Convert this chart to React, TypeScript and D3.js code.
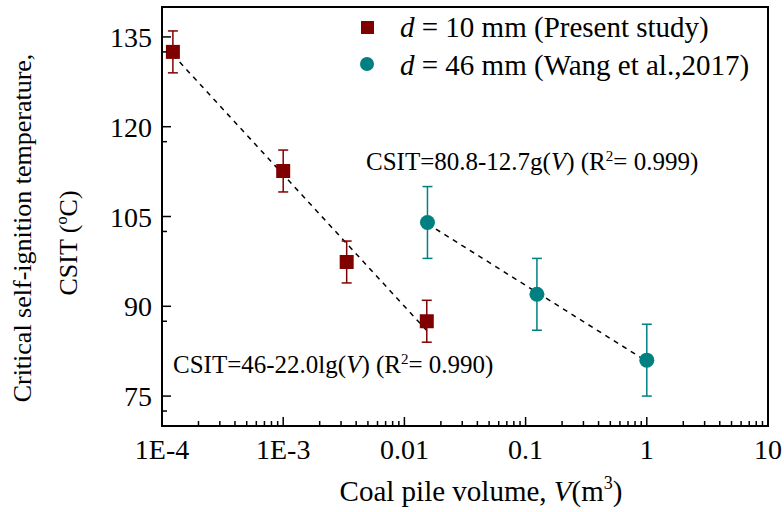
import React from 'react';
import * as d3 from 'd3';

// present study, d = 10 mm
const redVolume = [1.23e-4, 1.0e-3, 3.34e-3, 0.0153];
const redCsit = [132.5, 112.6, 97.4, 87.5];
const redErr = [3.5, 3.5, 3.5, 3.5];

// Wang et al., 2017, d = 46 mm
const tealVolume = [0.0155, 0.124, 1.0];
const tealCsit = [104, 92, 81];
const tealErr = [6, 6, 6];

// fit lines: CSIT = a + b * lg(V)
const redFit = { a: 46, b: -22.0, from: 1.23e-4, to: 0.0153 };
const tealFit = { a: 80.8, b: -12.7, from: 0.0155, to: 1.0 };

const xTicks = [1e-4, 1e-3, 0.01, 0.1, 1, 10];
const xTickLabels = ['1E-4', '1E-3', '0.01', '0.1', '1', '10'];
const yTicks = [75, 90, 105, 120, 135];

const W = 784;
const H = 512;
const left = 162, right = 768, top = 7, bottom = 426;
const RED = '#800000';
const TEAL = '#008080';
const FONT = '"Liberation Serif", "Times New Roman", serif';

export default function App() {
  const x = d3.scaleLog().domain([1e-4, 10]).range([left, right]);
  const y = d3.scaleLinear().domain([70, 140]).range([bottom, top]);

  const minorX: number[] = [];
  for (let e = -4; e < 1; e++) {
    for (let m = 2; m <= 9; m++) minorX.push(m * Math.pow(10, e));
  }
  const minorY = d3.range(72.5, 140, 15);

  const fitLine = (f: { a: number; b: number; from: number; to: number }) => {
    const line = d3.line<number>().x(v => x(v)).y(v => y(f.a + f.b * Math.log10(v)));
    return line([f.from, f.to]) || '';
  };

  const errBar = (vx: number, vy: number, e: number, c: string, k: number) => (
    <g key={k} stroke={c} strokeWidth={1.5}>
      <line x1={x(vx)} x2={x(vx)} y1={y(vy - e)} y2={y(vy + e)} />
      <line x1={x(vx) - 5} x2={x(vx) + 5} y1={y(vy + e)} y2={y(vy + e)} />
      <line x1={x(vx) - 5} x2={x(vx) + 5} y1={y(vy - e)} y2={y(vy - e)} />
    </g>
  );

  return (
    <svg width={W} height={H} style={{ position: 'absolute', left: 0, top: 0, background: '#fff' }} fontFamily={FONT}>
      {/* fit lines */}
      <path d={fitLine(redFit)} stroke="#000" strokeWidth={1.5} strokeDasharray="5,5" fill="none" />
      <path d={fitLine(tealFit)} stroke="#000" strokeWidth={1.5} strokeDasharray="5,5" fill="none" />

      {/* error bars */}
      {redVolume.map((v, i) => errBar(v, redCsit[i], redErr[i], RED, i))}
      {tealVolume.map((v, i) => errBar(v, tealCsit[i], tealErr[i], TEAL, 10 + i))}

      {/* markers */}
      {redVolume.map((v, i) => (
        <rect key={'r' + i} x={x(v) - 7} y={y(redCsit[i]) - 7} width={14} height={14} fill={RED} />
      ))}
      {tealVolume.map((v, i) => (
        <circle key={'c' + i} cx={x(v)} cy={y(tealCsit[i])} r={7.5} fill={TEAL} />
      ))}

      {/* frame */}
      <rect x={left} y={top} width={right - left} height={bottom - top} fill="none" stroke="#000" strokeWidth={2} />

      {/* y ticks */}
      {yTicks.map(t => (
        <g key={'yt' + t}>
          <line x1={left} x2={left + 9} y1={y(t)} y2={y(t)} stroke="#000" strokeWidth={1.5} />
          <text x={left - 10} y={y(t) + 10} textAnchor="end" fontSize={28}>{t}</text>
        </g>
      ))}
      {minorY.map(t => (
        <line key={'ym' + t} x1={left} x2={left + 5} y1={y(t)} y2={y(t)} stroke="#000" strokeWidth={1.5} />
      ))}

      {/* x ticks */}
      {xTicks.map((t, i) => (
        <g key={'xt' + i}>
          <line x1={x(t)} x2={x(t)} y1={bottom} y2={bottom - 9} stroke="#000" strokeWidth={1.5} />
          <text x={x(t)} y={459} textAnchor="middle" fontSize={28}>{xTickLabels[i]}</text>
        </g>
      ))}
      {minorX.map((t, i) => (
        <line key={'xm' + i} x1={x(t)} x2={x(t)} y1={bottom} y2={bottom - 5} stroke="#000" strokeWidth={1.5} />
      ))}

      {/* axis titles */}
      <text x={481} y={501} textAnchor="middle" fontSize={29}>
        Coal pile volume, <tspan fontStyle="italic">V</tspan>(m<tspan dy={-12} fontSize={18}>3</tspan><tspan dy={12}>)</tspan>
      </text>
      <text transform="translate(31,228) rotate(-90)" textAnchor="middle" fontSize={26}>
        Critical self-ignition temperature,
      </text>
      <text transform="translate(77,243) rotate(-90)" textAnchor="middle" fontSize={26}>
        CSIT (ºC)
      </text>

      {/* legend */}
      <rect x={361} y={21} width={13} height={13} fill={RED} />
      <text x={400} y={37} fontSize={29}>
        <tspan fontStyle="italic">d</tspan> = 10 mm (Present study)
      </text>
      <circle cx={367} cy={64} r={7} fill={TEAL} />
      <text x={400} y={75} fontSize={29}>
        <tspan fontStyle="italic">d</tspan> = 46 mm (Wang et al.,2017)
      </text>

      {/* fit equations */}
      <text x={366} y={170} fontSize={25}>
        CSIT=80.8-12.7g(<tspan fontStyle="italic">V</tspan>) (R<tspan dy={-9} fontSize={15}>2</tspan><tspan dy={9}>= 0.999)</tspan>
      </text>
      <text x={173} y={373} fontSize={25}>
        CSIT=46-22.0lg(<tspan fontStyle="italic">V</tspan>) (R<tspan dy={-9} fontSize={15}>2</tspan><tspan dy={9}>= 0.990)</tspan>
      </text>
    </svg>
  );
}
